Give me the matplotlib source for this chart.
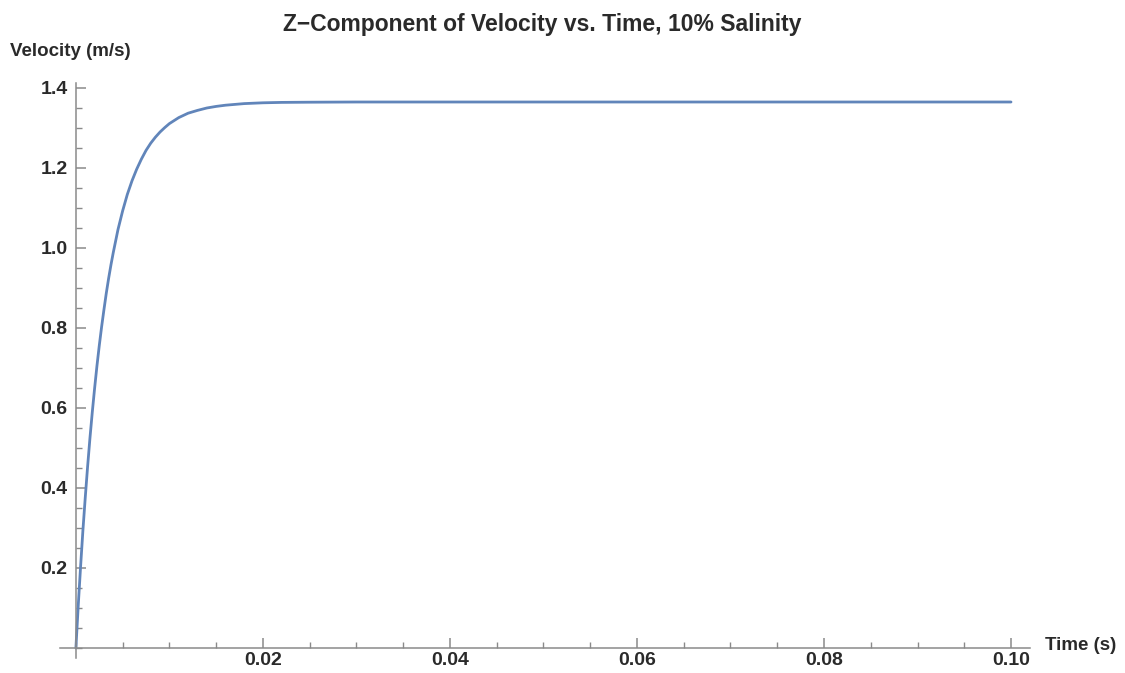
import numpy as np
import matplotlib
matplotlib.use("Agg")
import matplotlib.pyplot as plt
from matplotlib.ticker import MultipleLocator

# values
time_s = [0.0, 0.00025, 0.0005, 0.00075, 0.001, 0.00125, 0.0015, 0.00175,
          0.002, 0.00225, 0.0025, 0.00275, 0.003, 0.00325, 0.0035, 0.00375,
          0.004, 0.0045, 0.005, 0.0055, 0.006, 0.0065, 0.007, 0.0075, 0.008,
          0.0085, 0.009, 0.0095, 0.010, 0.011, 0.012, 0.013, 0.014, 0.015,
          0.016, 0.017, 0.018, 0.019, 0.020, 0.022, 0.025, 0.030, 0.040,
          0.050, 0.060, 0.070, 0.080, 0.090, 0.100]
velocity = [0.0, 0.106, 0.203, 0.294, 0.376, 0.453, 0.524, 0.589,
            0.649, 0.705, 0.756, 0.803, 0.846, 0.887, 0.924, 0.958,
            0.989, 1.046, 1.093, 1.134, 1.168, 1.197, 1.222, 1.244, 1.262,
            1.277, 1.290, 1.301, 1.311, 1.326, 1.337, 1.344, 1.350, 1.354,
            1.357, 1.359, 1.361, 1.362, 1.363, 1.364, 1.3645, 1.365, 1.365,
            1.365, 1.365, 1.365, 1.365, 1.365, 1.365]

title = "Z\u2212Component of Velocity vs. Time, 10% Salinity"
x_ticks = [0.02, 0.04, 0.06, 0.08, 0.10]
y_ticks = [0.2, 0.4, 0.6, 0.8, 1.0, 1.2, 1.4]

plt.rcParams['font.family'] = ['Liberation Sans', 'DejaVu Sans']
text_col = '#2a2a2a'
axis_col = '#8a8a8a'

fig = plt.figure(figsize=(11.25, 6.73), dpi=100)
ax = fig.add_axes([60 / 1125, 15 / 673, 970 / 1125, 575 / 673])

ax.plot(time_s, velocity, color='#6185ba', lw=2.0, solid_capstyle='round',
        solid_joinstyle='round')

ax.set_xlim(-0.0017, 0.10203)
ax.set_ylim(-0.025, 1.4125)

for side in ['top', 'right']:
    ax.spines[side].set_visible(False)
ax.spines['left'].set_position(('data', 0))
ax.spines['bottom'].set_position(('data', 0))
for side in ['left', 'bottom']:
    ax.spines[side].set_color(axis_col)
    ax.spines[side].set_linewidth(1.1)

ax.set_xticks(x_ticks)
ax.set_xticklabels(["%.2f" % v for v in x_ticks])
ax.set_yticks(y_ticks)
ax.set_yticklabels(["%.1f" % v for v in y_ticks])
ax.xaxis.set_minor_locator(MultipleLocator(0.005))
ax.yaxis.set_minor_locator(MultipleLocator(0.05))

ax.tick_params(which='major', direction='in', length=7, width=1.1,
               color=axis_col, labelsize=14, labelcolor=text_col)
ax.tick_params(axis='x', which='major', pad=3)
ax.tick_params(axis='y', which='major', pad=6)
ax.tick_params(which='minor', direction='in', length=4, width=1.0,
               color=axis_col)
for lab in ax.get_xticklabels() + ax.get_yticklabels():
    lab.set_fontweight('bold')

fig.text(542 / 1125, 1 - 24 / 673, title, ha='center', va='center',
         fontsize=16.5, fontweight='bold', color=text_col)
fig.text(10 / 1125, 1 - 52 / 673, "Velocity (m/s)", ha='left', va='center',
         fontsize=13.5, fontweight='bold', color=text_col)
fig.text(1045 / 1125, 1 - 646 / 673, "Time (s)", ha='left', va='center',
         fontsize=13.5, fontweight='bold', color=text_col)

fig.savefig("out.png", dpi=100)
